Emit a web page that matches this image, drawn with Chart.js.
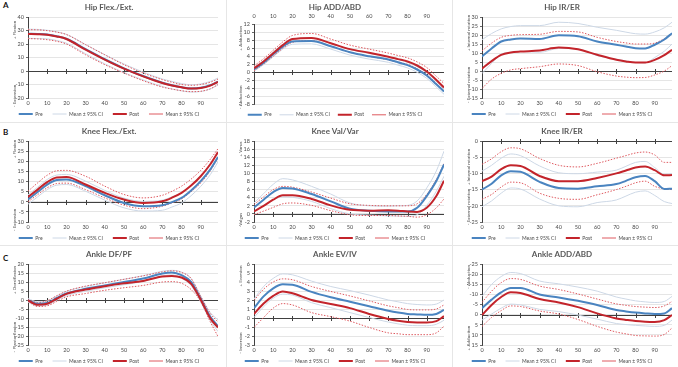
<!DOCTYPE html>
<html><head><meta charset="utf-8">
<script src="https://cdn.jsdelivr.net/npm/chart.js@4"></script>
<style>
html,body{margin:0;padding:0;background:#fff;width:678px;height:367px;overflow:hidden;}
canvas{position:absolute;}
.letter{position:absolute;font:bold 8px Lato,"Liberation Sans",sans-serif;color:#111;}
.sep{position:absolute;background:#e6e6e6;}
</style></head><body>
<div class="sep" style="left:226px;top:0;width:1px;height:367px"></div>
<div class="sep" style="left:452px;top:0;width:1px;height:367px"></div>
<div class="sep" style="left:0;top:122px;width:678px;height:1px"></div>
<div class="sep" style="left:0;top:245px;width:678px;height:1px"></div>
<div class="letter" style="left:3px;top:0px">A</div>
<div class="letter" style="left:3px;top:127px">B</div>
<div class="letter" style="left:3px;top:253px">C</div>
<script>
// ---- shared x positions (% of cycle) ----
const pct = [0,5,10,15,20,30,40,50,60,70,75,80,85,90,95,99];
const legendLabels = ['Pre','Mean ± 95% CI','Post','Mean ± 95% CI'];

// ---- Hip Flex./Ext. ----
const hipFlexPre    = [27.6,27.4,27.0,25.8,23.9,16.2,8.7,2.0,-3.7,-8.7,-10.5,-12.0,-12.9,-12.4,-10.5,-7.8];
const hipFlexPreHi  = [31.0,30.8,30.2,29.0,27.2,19.6,12.1,5.2,-0.8,-5.9,-7.7,-9.3,-10.2,-9.6,-7.7,-5.2];
const hipFlexPreLo  = [24.2,24.0,23.8,22.6,20.6,12.8,5.3,-1.2,-6.6,-11.5,-13.3,-14.7,-15.6,-15.2,-13.3,-10.4];
const hipFlexPost   = [27.4,27.3,26.9,25.6,23.7,15.8,8.4,1.7,-4.0,-8.9,-10.7,-12.1,-13.0,-12.6,-10.8,-8.1];
const hipFlexPostHi = [30.6,30.5,29.9,28.8,27.0,19.5,12.0,4.7,-1.5,-6.4,-8.3,-10.0,-10.6,-10.0,-8.3,-6.0];
const hipFlexPostLo = [24.0,23.8,23.2,22.0,20.0,12.0,4.7,-1.5,-7.2,-11.9,-13.4,-14.6,-15.3,-15.0,-13.2,-10.0];

// ---- Hip ADD/ABD ----
const hipAddPre    = [0.8,2.4,4.5,6.4,7.7,7.8,6.5,5.0,4.0,3.2,2.5,1.8,0.7,-0.8,-3.0,-4.8];
const hipAddPreHi  = [1.3,2.9,5.1,7.0,8.4,8.5,7.2,5.7,4.7,3.9,3.2,2.5,1.4,-0.1,-2.3,-4.1];
const hipAddPreLo  = [0.3,1.9,3.9,5.8,7.0,7.1,5.8,4.3,3.3,2.5,1.8,1.1,0.0,-1.5,-3.7,-5.5];
const hipAddPost   = [1.0,2.7,4.75,6.8,8.3,8.6,7.25,5.8,4.9,3.9,3.3,2.7,1.7,0.2,-1.9,-3.8];
const hipAddPostHi = [1.6,3.4,5.5,7.6,9.2,9.7,8.3,6.8,5.8,4.8,4.2,3.6,2.6,1.2,-1.0,-2.8];
const hipAddPostLo = [0.4,2.1,4.0,6.0,7.5,7.9,6.5,5.0,4.0,3.1,2.5,2.0,0.9,-0.6,-2.8,-4.6];

// ---- Hip IR/ER ----
const hipRotPre    = [8.0,12.5,16.4,17.5,18.0,17.8,19.8,19.3,16.4,14.6,13.6,12.7,12.5,14.6,17.5,21.0];
const hipRotPreHi  = [17.4,20.8,23.4,24.7,25.2,25.2,27.1,26.4,24.3,22.6,21.6,20.7,20.5,21.7,24.0,27.1];
const hipRotPreLo  = [-1.4,4.2,9.4,10.3,10.8,10.4,12.5,12.2,8.5,6.6,5.6,4.7,4.5,7.5,11.0,15.0];
const hipRotPost   = [1.3,5.5,9.0,10.3,10.8,11.4,13.0,12.1,9.0,6.2,5.3,4.7,4.7,6.2,8.8,11.8];
const hipRotPostHi = [11.2,15.5,18.7,19.8,20.2,20.4,22.0,21.7,18.7,16.4,15.6,15.0,15.0,15.5,18.0,21.0];
const hipRotPostLo = [-9.7,-4.5,-1.3,0.6,1.3,2.4,3.9,3.0,-0.4,-2.8,-3.4,-3.7,-3.6,-2.2,0.0,3.0];

// ---- Knee Flex./Ext. ----
const kneeFlexPre    = [1.1,4.8,8.5,10.7,11.0,7.7,3.2,-0.6,-2.2,-1.7,-0.2,1.9,5.6,10.2,16.0,22.1];
const kneeFlexPreHi  = [3.4,7.2,11.0,13.2,13.5,10.2,5.6,1.8,0.2,0.8,2.4,4.4,8.2,12.8,18.6,24.5];
const kneeFlexPreLo  = [-1.2,2.4,6.0,8.2,8.5,5.2,0.8,-3.0,-4.6,-4.2,-2.6,-0.6,3.0,7.6,13.4,19.7];
const kneeFlexPost   = [2.4,6.0,9.7,12.0,12.2,8.5,4.4,1.1,-0.6,0.2,2.0,4.4,8.0,12.6,18.5,24.5];
const kneeFlexPostHi = [5.2,9.3,13.1,15.3,15.5,12.6,7.7,3.6,1.9,3.2,5.2,7.7,11.2,15.5,21.0,26.2];
const kneeFlexPostLo = [0.0,3.5,6.9,9.0,9.2,6.0,1.9,-1.7,-3.4,-2.2,-0.6,1.4,5.0,9.3,15.3,21.7];

// ---- Knee Val/Var ----
const kneeVarPre    = [1.6,3.5,5.4,6.4,6.3,4.9,3.1,1.3,0.8,0.6,0.6,0.6,1.5,4.4,8.1,12.2];
const kneeVarPreHi  = [2.7,5.0,7.3,8.7,8.4,6.8,4.9,2.7,2.0,1.9,2.0,2.1,3.2,6.4,10.6,15.5];
const kneeVarPreLo  = [0.6,2.0,3.5,4.2,4.1,3.1,1.3,0.0,-0.3,-0.5,-0.55,-0.6,-0.2,2.1,5.6,9.3];
const kneeVarPost   = [0.6,2.0,3.5,4.6,4.6,3.7,2.1,1.0,0.8,0.9,0.8,0.6,0.5,1.5,4.4,8.2];
const kneeVarPostHi = [2.3,4.2,6.0,6.8,6.6,5.4,3.9,2.5,2.1,2.0,2.0,2.0,2.5,4.8,8.5,12.4];
const kneeVarPostLo = [-0.2,0.7,1.6,2.5,2.7,2.1,0.8,-0.2,-0.4,-0.4,-0.5,-0.6,-0.8,-0.2,1.5,3.7];

// ---- Knee IR/ER ----
const kneeRotPre    = [-15.0,-13.2,-10.6,-9.3,-9.5,-12.6,-14.5,-14.7,-14.0,-13.3,-12.3,-11.2,-10.8,-12.4,-14.8,-14.7];
const kneeRotPreHi  = [-9.3,-7.5,-5.3,-4.0,-4.5,-7.7,-9.8,-10.1,-9.6,-9.0,-7.8,-6.6,-6.3,-8.2,-10.3,-10.1];
const kneeRotPreLo  = [-20.3,-18.5,-16.1,-14.5,-14.8,-17.9,-20.0,-20.3,-19.0,-18.2,-17.0,-15.8,-15.4,-16.8,-18.7,-19.3];
const kneeRotPost   = [-12.4,-11.0,-8.7,-7.5,-7.7,-10.8,-12.4,-12.4,-11.4,-10.0,-9.1,-8.2,-7.9,-9.0,-10.6,-10.5];
const kneeRotPostHi = [-7.2,-5.5,-3.3,-2.1,-2.4,-5.4,-7.5,-8.0,-6.9,-5.3,-4.5,-3.7,-3.4,-4.3,-6.6,-6.6];
const kneeRotPostLo = [-18.0,-16.5,-14.2,-12.7,-12.9,-16.1,-17.7,-18.0,-16.6,-15.0,-14.0,-12.9,-12.4,-14.0,-14.8,-15.0];

// ---- Ankle DF/PF ----
const ankleDfPre    = [-0.2,-2.1,-1.7,1.1,3.6,6.2,8.1,10.0,11.9,14.7,15.3,13.8,10.0,0.5,-9.3,-14.6];
const ankleDfPreHi  = [0.8,-1.0,-0.5,2.2,4.8,7.5,9.5,11.5,13.5,16.0,16.5,15.5,12.0,2.2,-7.0,-11.0];
const ankleDfPreLo  = [-1.2,-3.2,-2.9,-0.1,2.4,4.9,6.8,8.5,10.3,13.4,14.0,12.1,8.0,-1.2,-11.5,-17.5];
const ankleDfPost   = [-0.2,-2.7,-2.1,0.7,3.4,5.8,7.7,9.3,10.6,13.1,13.4,12.5,9.0,0.2,-10.2,-15.3];
const ankleDfPostHi = [0.2,-1.4,-0.4,2.4,4.9,7.7,9.6,11.5,13.4,15.6,16.2,15.3,11.9,2.0,-7.5,-12.2];
const ankleDfPostLo = [-0.8,-3.6,-3.2,-0.8,1.7,3.6,5.4,6.8,8.1,10.0,10.2,9.3,5.8,-0.8,-12.2,-20.3];

// ---- Ankle EV/IV ----
const ankleEvPre    = [1.1,2.4,3.3,3.75,3.7,2.9,2.3,1.8,1.3,0.8,0.6,0.45,0.4,0.35,0.45,0.9];
const ankleEvPreHi  = [2.1,3.5,4.4,4.9,4.8,4.1,3.5,3.05,2.55,2.0,1.8,1.6,1.5,1.45,1.55,2.0];
const ankleEvPreLo  = [0.05,1.25,2.2,2.65,2.55,1.7,1.15,0.6,0.05,-0.45,-0.65,-0.8,-0.85,-0.85,-0.7,-0.25];
const ankleEvPost   = [0.45,1.6,2.45,2.95,2.75,2.0,1.55,1.1,0.45,-0.1,-0.3,-0.45,-0.5,-0.5,-0.35,0.2];
const ankleEvPostHi = [1.95,3.2,4.0,4.35,4.25,3.5,2.95,2.45,1.9,1.35,1.15,0.95,0.9,0.9,1.0,1.45];
const ankleEvPostLo = [-1.05,0.05,1.1,1.6,1.45,0.6,0.15,-0.35,-1.05,-1.65,-1.75,-1.85,-1.85,-1.85,-1.65,-0.9];

// ---- Ankle ADD/ABD ----
const ankleAddPre    = [-3.2,-7.4,-11.0,-13.2,-13.2,-9.9,-8.5,-6.8,-4.8,-2.3,-1.6,-1.0,-0.6,-0.3,-0.6,-3.2];
const ankleAddPreHi  = [-9.0,-14.9,-18.8,-20.8,-20.3,-16.6,-15.2,-13.6,-11.6,-8.7,-7.7,-6.8,-6.3,-6.0,-6.5,-9.0];
const ankleAddPreLo  = [2.7,-0.3,-3.2,-5.2,-4.8,-2.6,-1.5,0.2,2.2,4.4,4.9,5.3,5.6,5.8,5.3,2.7];
const ankleAddPost   = [0.2,-4.8,-8.7,-11.0,-10.7,-7.7,-6.0,-3.7,-0.6,1.9,2.6,3.2,3.5,3.6,2.7,0.2];
const ankleAddPostHi = [-6.0,-11.6,-15.8,-17.8,-17.4,-14.1,-12.4,-10.2,-7.7,-5.3,-4.6,-4.0,-3.7,-3.5,-4.3,-6.5];
const ankleAddPostLo = [5.8,1.4,-2.0,-4.3,-4.0,-1.8,-0.3,2.4,5.8,8.6,9.5,10.3,10.5,10.6,9.8,6.6];

// ---- titles, axis labels and tick ranges ----
const chartTitles = ['Hip Flex./Ext.','Hip ADD/ABD','Hip IR/ER','Knee Flex./Ext.','Knee Val/Var','Knee IR/ER','Ankle DF/PF','Ankle EV/IV','Ankle ADD/ABD'];
const axisUpper = ['+ Flexion','+ Adduction','+ Internal rotation','+ Flexion','+ Varus','+ Internal rotation','+ Dorsiflexion','+ Eversion','- Abduction'];
const axisLower = ['- Extension','- Abduction','- External rotation','- Extension','-Valgus','- External rotation','- Plantarflexion','- Inversion','+ Adduction'];
const yMin  = [-20,-8,-15,-10,-2,-25,-25,-3,-25];
const yMax  = [40,12,30,30,18,0,20,6,15];
const yStep = [10,2,5,5,2,5,5,1,5];
const xTickStep = 10;

const seriesSets = [
  [hipFlexPre,hipFlexPreHi,hipFlexPreLo,hipFlexPost,hipFlexPostHi,hipFlexPostLo],
  [hipAddPre,hipAddPreHi,hipAddPreLo,hipAddPost,hipAddPostHi,hipAddPostLo],
  [hipRotPre,hipRotPreHi,hipRotPreLo,hipRotPost,hipRotPostHi,hipRotPostLo],
  [kneeFlexPre,kneeFlexPreHi,kneeFlexPreLo,kneeFlexPost,kneeFlexPostHi,kneeFlexPostLo],
  [kneeVarPre,kneeVarPreHi,kneeVarPreLo,kneeVarPost,kneeVarPostHi,kneeVarPostLo],
  [kneeRotPre,kneeRotPreHi,kneeRotPreLo,kneeRotPost,kneeRotPostHi,kneeRotPostLo],
  [ankleDfPre,ankleDfPreHi,ankleDfPreLo,ankleDfPost,ankleDfPostHi,ankleDfPostLo],
  [ankleEvPre,ankleEvPreHi,ankleEvPreLo,ankleEvPost,ankleEvPostHi,ankleEvPostLo],
  [ankleAddPre,ankleAddPreHi,ankleAddPreLo,ankleAddPost,ankleAddPostHi,ankleAddPostLo]
];

// ---- layout / style (not data) ----
const FONT = 'Lato, "Liberation Sans", sans-serif';
const TXT = '#4a4a4a';
const BLUE = '#4a84c0', BLUE_CI = '#cdd8e6', RED = '#c3242b', RED_CI = '#de5a60';
const colX = [0, 226, 452];
const rowY = [0, 124, 247];
const xTopCharts = [1];
const reversedCharts = [8];
const upperOff = [13,14,16,8,8,26,16,12,13];
const lowerOff = [2,7,13,2,2,15,8,2,7];

function pts(ys){ return pct.map((x,i)=>({x, y: ys[i]})); }

function makeChart(k){
  const col = k % 3, row = Math.floor(k/3);
  const cv = document.createElement('canvas');
  cv.width = 226; cv.height = 120;
  cv.style.left = colX[col]+'px'; cv.style.top = rowY[row]+'px';
  document.body.appendChild(cv);
  const xTop = xTopCharts.includes(k);
  const yw = col === 2 ? 30 : 28;
  const pr = col === 2 ? 6 : 8;
  const lp = xTop ? 8 : 10;
  const padB = xTop ? -7.3 : -6.5;
  const s = seriesSets[k];
  const textPlugin = {
    id: 'axisText' + k,
    afterDraw(chart){
      const {ctx, chartArea: a, scales: {x}} = chart;
      ctx.save();
      ctx.fillStyle = TXT;
      // x tick labels, placed through the x scale
      ctx.font = '5.5px ' + FONT;
      ctx.textAlign = 'center'; ctx.textBaseline = 'middle';
      const ly = xTop ? a.top - 8 : a.bottom + 4.8;
      x.ticks.forEach(t => { ctx.fillText(String(t.value), x.getPixelForValue(t.value), ly); });
      // two-part rotated y titles
      ctx.font = '4.6px ' + FONT;
      const xx = a.left - 13;
      [[axisUpper[k], a.top + upperOff[k]], [axisLower[k], a.bottom - lowerOff[k]]].forEach(([t, yc]) => {
        ctx.save(); ctx.translate(xx, yc); ctx.rotate(-Math.PI/2); ctx.fillText(t, 0, 0); ctx.restore();
      });
      ctx.restore();
    }
  };
  const zeroAxis = {
    id: 'zeroAxis' + k,
    beforeDatasetsDraw(chart){
      const {ctx, chartArea: a, scales: {x, y}} = chart;
      const y0 = Math.round(y.getPixelForValue(0)) + 0.5;
      ctx.save();
      ctx.strokeStyle = '#404040'; ctx.lineWidth = 1;
      ctx.beginPath(); ctx.moveTo(a.left, y0); ctx.lineTo(a.right, y0);
      x.ticks.forEach(t => {
        if (t.value === 0) return;
        const px = Math.round(x.getPixelForValue(t.value)) + 0.5;
        ctx.moveTo(px, y0 - 2.5); ctx.lineTo(px, y0 + 2.5);
      });
      ctx.stroke(); ctx.restore();
    }
  };
  const ds = (label, data, color, width, order, dash) => ({
    label, data: pts(data), borderColor: color, backgroundColor: color,
    borderWidth: width, order, borderDash: dash || [], pointRadius: 0, fill: false
  });
  new Chart(cv, {
    type: 'line',
    data: { datasets: [
      ds(legendLabels[0], s[0], BLUE, 2, 2),
      ds(legendLabels[1], s[1], BLUE_CI, 1, 4),
      ds(legendLabels[2], s[3], RED, 2, 1),
      ds(legendLabels[3], s[4], RED_CI, 1, 3, [1.5,1.5]),
      ds('lo1', s[2], BLUE_CI, 1, 4),
      ds('lo2', s[5], RED_CI, 1, 3, [1.5,1.5])
    ]},
    options: {
      responsive: false, animation: false, devicePixelRatio: 1,
      layout: { padding: { left: 0, right: pr, top: 0, bottom: padB } },
      elements: { line: { cubicInterpolationMode: 'monotone' }, point: { radius: 0 } },
      plugins: {
        title: { display: true, text: chartTitles[k], color: '#595959',
                 font: { family: FONT, size: 8, weight: 'bold' }, padding: { top: 2.2, bottom: 5.2 } },
        legend: { position: 'bottom',
          labels: { font: { family: FONT, size: 5 }, color: TXT, usePointStyle: true, pointStyle: 'line',
                    pointStyleWidth: 14, padding: lp,
                    filter: it => it.datasetIndex < 4,
                    sort: (a, b) => a.datasetIndex - b.datasetIndex } },
        tooltip: { enabled: false }
      },
      scales: {
        x: { type: 'linear', position: xTop ? 'top' : 'bottom', min: 0, max: 99,
             ticks: { display: false, stepSize: xTickStep, includeBounds: false, autoSkip: false },
             grid: { display: false, drawTicks: false }, border: { display: false },
             afterFit: sc => { sc.height = xTop ? 7.3 : 3.5; } },
        y: { min: yMin[k], max: yMax[k], reverse: reversedCharts.includes(k),
             ticks: { stepSize: yStep[k], font: { family: FONT, size: 5.5 }, color: TXT, padding: 2, autoSkip: false },
             grid: { color: '#dedede', lineWidth: 0.8, tickColor: '#404040', tickLength: 2 },
             border: { display: true, color: '#404040', width: 1 },
             afterFit: sc => { sc.width = yw; } }
      }
    },
    plugins: [zeroAxis, textPlugin]
  });
}
for (let k = 0; k < 9; k++) makeChart(k);
</script>
</body></html>
